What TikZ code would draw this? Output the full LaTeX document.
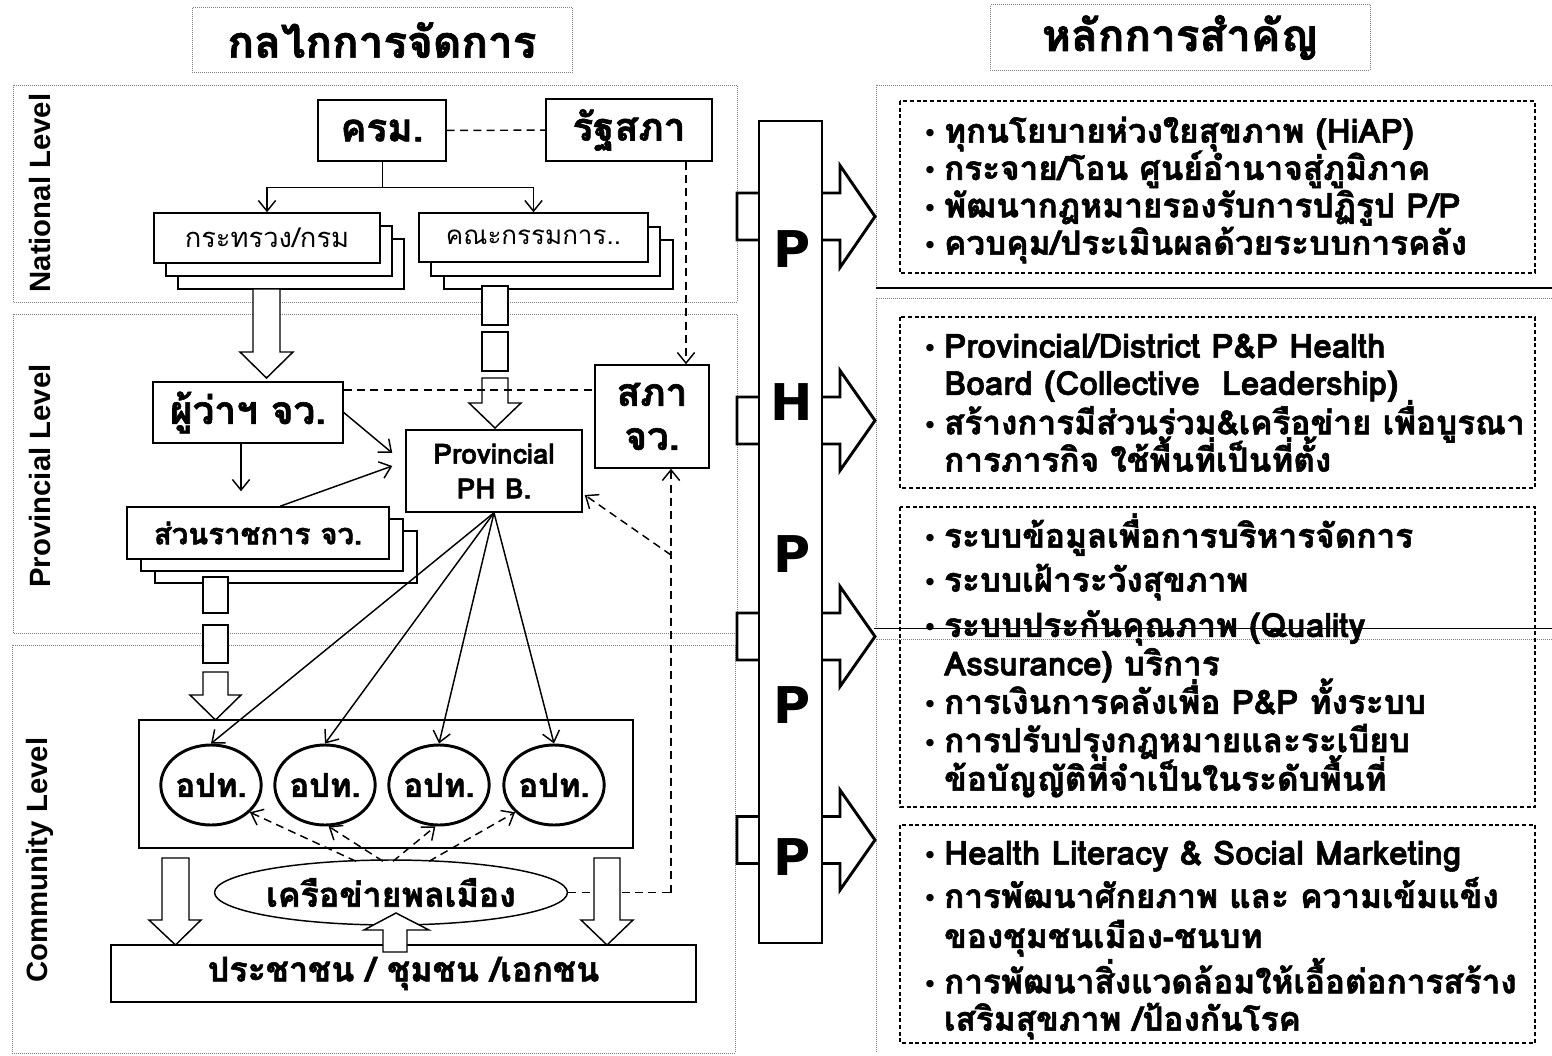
\documentclass[tikz,border=0pt]{standalone}
\usepackage{fontspec}
\setmainfont[Script=Thai, BoldFeatures={FakeBold=1.6}]{Loma}
\newfontfamily\levelfont{Liberation Sans}
\newfontfamily\dvsans{DejaVu Sans}
\usetikzlibrary{calc,shapes.geometric,arrows.meta}

\tikzset{every picture/.style={line width=0.75pt}}
\tikzset{
  panel/.style={draw=black!50, densely dotted, line width=0.5},
  titlebox/.style={draw=black!50, densely dotted, line width=0.5, minimum width=285pt, minimum height=49pt, font=\bfseries\fontsize{33}{40}\selectfont},
  level/.style={font=\levelfont\bfseries\fontsize{22}{26}\selectfont},
  box/.style={draw, fill=white, line width=1.1, inner sep=0pt, align=center},
  bigtext/.style={font=\bfseries\fontsize{29}{33}\selectfont},
  midtext/.style={font=\bfseries\fontsize{22}{26}\selectfont},
  lowtext/.style={font=\bfseries\fontsize{25.5}{30}\selectfont},
  stacktext/.style={font=\fontsize{20.5}{24}\selectfont},
  opt/.style={draw, fill=white, ellipse, line width=2.2, minimum width=64.5pt, minimum height=60pt, inner sep=0pt, font=\bfseries\fontsize{24.5}{28}\selectfont},
  blk/.style={draw, fill=white, line width=1.1},
  colarrow/.style={draw, fill=white, line width=2.2},
  letter/.style={font=\dvsans\bfseries\fontsize{38}{40}\selectfont},
  dashline/.style={dash pattern=on 6pt off 4pt, line width=1.1},
  arr/.style={-{Straight Barb[length=8pt,width=13pt]}, line width=1.1},
  ibox/.style={dash pattern=on 3pt off 2pt, line width=1},
  bullets/.style={anchor=north west, inner sep=0pt, font=\bfseries\fontsize{25}{28}\selectfont}
}
\newcommand{\blt}{{\dvsans\mdseries\fontsize{19}{19}\selectfont •}}
\newcommand{\tl}[1]{\smash{#1}}

\begin{document}
\begin{tikzpicture}[x=0.75pt,y=0.75pt,yscale=-1,xscale=1]
\useasboundingbox (0,0) rectangle (1552,1056);

% Panels
\draw[panel] (13,85) rectangle (737,302);
\draw[panel] (13,314) rectangle (737,633);
\draw[panel] (12,645) rectangle (735,1053);
\draw[panel] (1552,85) -- (876,85) -- (876,288);
\draw[panel] (1552,298) -- (876,298) -- (876,628);
\draw[panel] (1552,639) -- (876,639) -- (876,1053);

% Titles
\node[titlebox] (ttlleft) at (382,40) {กลไกการจัดการ};
\node[titlebox] (ttlright) at (1180,37.5) {หลักการสำคัญ};

% Level labels
\node[level, rotate=90] (natlbl) at (40,193) {National Level};
\node[level, rotate=90] (provlbl) at (40,476) {Provincial Level};
\node[level, rotate=90] (commlbl) at (40,860) {Community Level};

% National level
\node[box, bigtext, minimum width=96pt, minimum height=45.75pt] (krm) at (382,130.5) {ครม.};
\node[box, bigtext, minimum width=124.5pt, minimum height=46.5pt] (rsp) at (629,130) {รัฐสภา};
\draw[dashline] (krm) -- (rsp);
\node[box, minimum width=169.5pt, minimum height=37.5pt] (mini3) at (291,264) {};
\node[box, minimum width=169.5pt, minimum height=37.5pt] (mini2) at (279,251) {};
\node[box, stacktext, minimum width=169.5pt, minimum height=37.5pt] (mini) at (267,238) {กระทรวง/กรม};
\node[box, minimum width=171.75pt, minimum height=36.75pt] (comm3) at (558.5,264.5) {};
\node[box, minimum width=171.75pt, minimum height=36.75pt] (comm2) at (545.5,251.5) {};
\node[box, stacktext, font=\fontsize{19.5}{24}\selectfont, minimum width=171.75pt, minimum height=36.75pt] (comm) at (533.5,237.5) {คณะกรรมการ..};
\draw (krm.south) -- ++(0,26) coordinate (kj);
\draw[arr] (kj) -| (mini.north);
\draw[arr] (kj) -| (comm.north);

% Down Arrow
\draw[blk] (253,289) -- (280,289) -- (280,352) -- (293,352) -- (266.5,378) -- (240,352) -- (253,352) -- cycle;
% Dashed Down Arrow
\draw[blk] (482,286) rectangle (508,325);
\draw[blk] (482,332) rectangle (508,371);
\draw[blk] (482,378) -- (508,378) -- (508,403) -- (521,403) -- (495,428) -- (469,403) -- (482,403) -- cycle;

% Provincial level
\node[box, bigtext, minimum width=142.5pt, minimum height=45.75pt] (gov) at (248,412.5) {ผู้ว่าฯ จว.};
\node[box, bigtext, minimum width=85.5pt, minimum height=77.25pt] (sapa) at (652,416.5) {สภา\\จว.};
\node[box, font=\bfseries\fontsize{21}{26}\selectfont, minimum width=132pt, minimum height=61.5pt] (phb) at (494,471) {Provincial\\PH B.};
\node[box, minimum width=196.5pt, minimum height=39pt] (sra3) at (286,557) {};
\node[box, minimum width=196.5pt, minimum height=39pt] (sra2) at (272,545) {};
\node[box, midtext, minimum width=196.5pt, minimum height=39pt] (sra) at (258,533) {ส่วนราชการ จว.};
\draw[dashline] (gov.east |- 0,390) -- (sapa.west |- 0,390);
\draw[dashline, arr] (rsp.south -| 686,0) -- (sapa.north -| 686,0);
\draw[arr] (gov.east) -- ($(phb.west)+(-13,-18)$);
\draw[arr] (gov.south -| 241,0) -- ($(sra.north -| 241,0)+(0,-15)$);
\draw[arr] (sra.north -| 280,0) -- ($(phb.west)+(-13,-5)$);

% Dashed Down Arrow
\draw[blk] (203,577) rectangle (228,613);
\draw[blk] (203,625) rectangle (228,663);
\draw[blk] (203,672) -- (228,672) -- (228,695) -- (241,695) -- (215.5,720) -- (190,695) -- (203,695) -- cycle;

% Community level
\node[box, minimum width=370.5pt, minimum height=96pt] (optbox) at (386,784) {};
\foreach \i/\x in {1/211,2/325,3/439,4/554}
  \node[opt] (c\i) at (\x,785) {อปท.};
\foreach \i in {1,...,4}
  \draw[arr] (phb.south) -- (c\i.north);

\node[box, ellipse, lowtext, minimum width=249pt, minimum height=48.75pt] (net) at (391,892.5) {เครือข่ายพลเมือง};
\node[box, lowtext, minimum width=438.75pt, minimum height=42.75pt] (people) at (403.5,973.5) {ประชาชน / ชุมชน /เอกชน};

\draw[dashline, arr] ($(net.north)+(-35,2)$) -- (c1.-35);
\draw[dashline, arr] ($(net.north)+(-8,2)$) -- (c2.-85);
\draw[dashline, arr] ($(net.north)+(2,2)$) -- (c3.-95);
\draw[dashline, arr] ($(net.north)+(38,2)$) -- (c4.-145);

\draw[dashline] (net.east) -- (net.east -| 671,0);
\draw[dashline, arr] (net.east -| 671,0) -- (sapa.south -| 671,0);
\coordinate (sj) at (671,555);
\draw[dashline, arr] (sj) -- ($(phb.east)+(2,24)$);

% Down Arrows
\draw[blk] (162,858) -- (189,858) -- (189,920) -- (201,920) -- (175.5,945) -- (149,920) -- (162,920) -- cycle;
\draw[blk] (594,858) -- (620,858) -- (620,920) -- (633,920) -- (607,945) -- (581,920) -- (594,920) -- cycle;
% Up Arrow
\draw[blk] (383,952) -- (407,952) -- (407,930) -- (429,930) -- (396,913) -- (364,930) -- (383,930) -- cycle;

% P H P P column
\foreach \y/\h in {216.5/51,420.5/50,636.5/50,840/50}
  \draw[colarrow] (737,\y-23.5) -- (840,\y-23.5) -- (840,\y-\h) -- (875,\y) -- (840,\y+\h) -- (840,\y+23.5) -- (737,\y+23.5) -- cycle;
\node[draw, fill=white, line width=1.5, minimum width=47.25pt, minimum height=616.5pt, inner sep=0pt] (col) at (790.5,532) {};
\node[letter] (l1) at (792,249) {P};
\node[letter] (l2) at (792,402) {H};
\node[letter] (l3) at (792,554) {P};
\node[letter] (l4) at (792,705) {P};
\node[letter] (l5) at (792,857) {P};

% Key principles
\draw[ibox] (900,101) rectangle (1535,273);
\draw[ibox] (900,317) rectangle (1535,488);
\draw[ibox] (900,507) rectangle (1535,807);
\draw[ibox] (900,825) rectangle (1535,1043);

\node[bullets] (pr1) at (922,116) {\begin{tabular}{@{}l@{\hspace{5pt}}l@{}}
\blt & \tl{ทุกนโยบายห่วงใยสุขภาพ (HiAP)}\\
\blt & \tl{กระจาย/โอน ศูนย์อำนาจสู่ภูมิภาค}\\
\blt & \tl{พัฒนากฎหมายรองรับการปฏิรูป P/P}\\
\blt & \tl{ควบคุม/ประเมินผลด้วยระบบการคลัง}
\end{tabular}};
\node[bullets] (pr2) at (922,331) {\begin{tabular}{@{}l@{\hspace{5pt}}l@{}}
\blt & \tl{Provincial/District P\&P Health}\\
 & \tl{Board (Collective~~Leadership)}\\[1.5pt]
\blt & \tl{สร้างการมีส่วนร่วม\&เครือข่าย เพื่อบูรณา}\\
 & \tl{การภารกิจ ใช้พื้นที่เป็นที่ตั้ง}
\end{tabular}};
\node[bullets] (pr3) at (922,521) {\begin{tabular}{@{}l@{\hspace{5pt}}l@{}}
\blt & \tl{ระบบข้อมูลเพื่อการบริหารจัดการ}\\[5pt]
\blt & \tl{ระบบเฝ้าระวังสุขภาพ}\\[6pt]
\blt & \tl{ระบบประกันคุณภาพ (Quality}\\[0.8pt]
 & \tl{Assurance) บริการ}\\[0.8pt]
\blt & \tl{การเงินการคลังเพื่อ P\&P ทั้งระบบ}\\[0.8pt]
\blt & \tl{การปรับปรุงกฎหมายและระเบียบ}\\[0.8pt]
 & \tl{ข้อบัญญัติที่จำเป็นในระดับพื้นที่}
\end{tabular}};
\node[bullets] (pr4) at (922,838) {\begin{tabular}{@{}l@{\hspace{5pt}}l@{}}
\blt & \tl{Health Literacy \& Social Marketing}\\[4.5pt]
\blt & \tl{การพัฒนาศักยภาพ และ ความเข้มแข็ง}\\[2pt]
 & \tl{ของชุมชนเมือง-ชนบท}\\[6pt]
\blt & \tl{การพัฒนาสิ่งแวดล้อมให้เอื้อต่อการสร้าง}\\
 & \tl{เสริมสุขภาพ /ป้องกันโรค}
\end{tabular}};

\draw[line width=0.9] (876,288) -- (1552,288);
\draw[line width=0.6] (874,628) -- (1552,628);
\end{tikzpicture}
\end{document}
